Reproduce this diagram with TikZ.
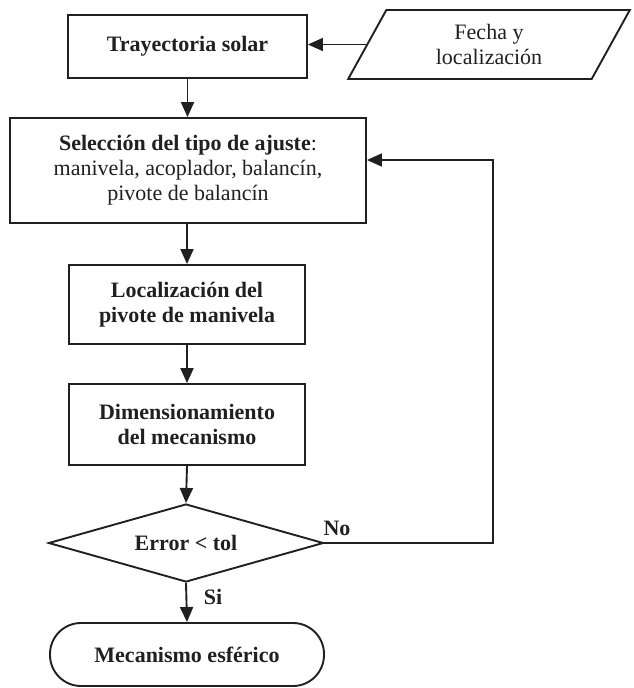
\documentclass[tikz,border=0pt]{standalone}
\usepackage{fontspec}
\setmainfont{Liberation Serif}
\usetikzlibrary{shapes.geometric,arrows.meta}
\definecolor{ink}{HTML}{231F20}
\tikzset{
  base/.style={draw=ink, line width=1.9pt, text=ink, inner sep=0pt, align=center,
    font=\fontsize{22}{25}\selectfont},
  boldtext/.style={font=\fontsize{22}{25}\selectfont\bfseries},
  procbox/.style={base, rectangle},
  iobox/.style={base, trapezium, trapezium left angle=64, trapezium right angle=116,
    trapezium stretches=true},
  decbox/.style={base, diamond, shape aspect=3.5},
  termbox/.style={base, rectangle, rounded corners=31pt},
  arr/.style={draw=ink, line width=1.9pt, -{Triangle[length=15pt,width=13pt]}},
  lbl/.style={text=ink, font=\fontsize{22}{25}\selectfont\bfseries}
}
\begin{document}
\begin{tikzpicture}[x=1pt,y=-1pt]
\useasboundingbox (0,0) rectangle (633,688);
\node[procbox, boldtext, minimum width=239pt, minimum height=63pt] (tray) at (187.5,46.5) {Trayectoria solar};
\node[iobox, minimum width=282pt, minimum height=69pt] (fecha) at (489,44.5) {Fecha y\\localización};
\node[procbox, minimum width=356pt, minimum height=105pt] (sel) at (188,170.5) {\textbf{Selección del tipo de ajuste}:\\manivela, acoplador, balancín,\\pivote de balancín};
\node[procbox, boldtext, minimum width=236pt, minimum height=79pt] (loc) at (187,304.5) {Localización del\\pivote de manivela};
\node[procbox, boldtext, minimum width=236pt, minimum height=81pt] (dim) at (187,424.5) {Dimensionamiento\\del mecanismo};
\node[decbox, boldtext, minimum width=275pt, minimum height=78pt] (err) at (186,543) {Error < tol};
\node[termbox, boldtext, minimum width=274pt, minimum height=63pt] (mec) at (187,654.5) {Mecanismo esférico};
\coordinate (fb) at (493,160);
\draw[arr] (fecha.west) -- (fecha.west -| tray.east);
\draw[arr] (tray.south) -- (tray.south |- sel.north);
\draw[arr] (sel.south -| loc.north) -- (loc.north);
\draw[arr] (loc.south) -- (dim.north);
\draw[arr] (dim.south) -- (err.north);
\draw[arr] (err.south) -- (mec.north);
\draw[arr] (err.east) -| (fb) -- (fb -| sel.east);
\node[lbl] (no) at (337,528) {No};
\node[lbl] (si) at (213,597) {Si};
\end{tikzpicture}
\end{document}
